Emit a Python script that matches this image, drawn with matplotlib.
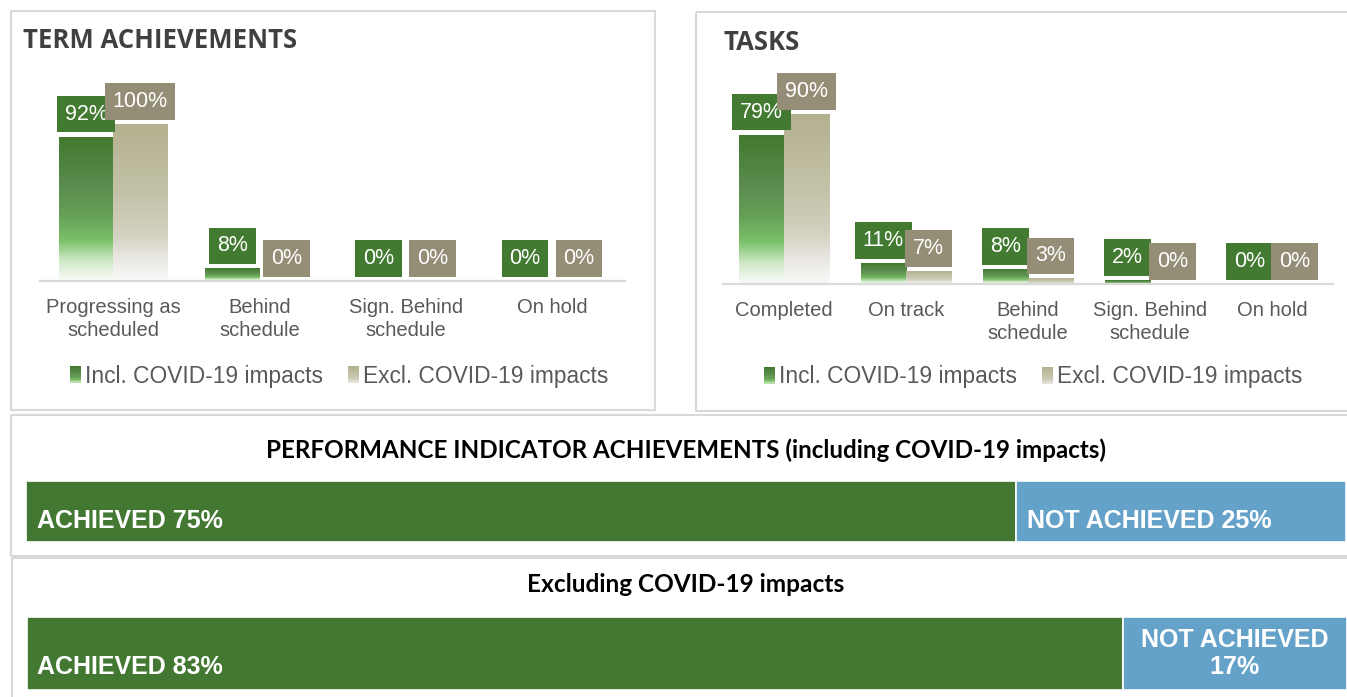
import numpy as np
import matplotlib
matplotlib.use("Agg")
import matplotlib.pyplot as plt
from matplotlib.colors import LinearSegmentedColormap
from matplotlib.patches import Rectangle
from matplotlib.legend_handler import HandlerBase

# ---------------- data ----------------
term_categories = ["Progressing as\nscheduled", "Behind\nschedule", "Sign. Behind\nschedule", "On hold"]
term_incl = [92, 8, 0, 0]
term_excl = [100, 0, 0, 0]

task_categories = ["Completed", "On track", "Behind\nschedule", "Sign. Behind\nschedule", "On hold"]
task_incl = [79, 11, 8, 2, 0]
task_excl = [90, 7, 3, 0, 0]

series_names = ["Incl. COVID-19 impacts", "Excl. COVID-19 impacts"]

pi_labels = ["ACHIEVED", "NOT ACHIEVED"]
pi_incl = [75, 25]
pi_excl = [83, 17]

# ---------------- style ----------------
W, H = 1347, 697
plt.rcParams["font.family"] = ["Liberation Sans", "DejaVu Sans"]

GREEN_CMAP = LinearSegmentedColormap.from_list(
    "g", [(0, "#42782E"), (0.35, "#5B8C4F"), (0.55, "#66A057"), (0.72, "#7BC169"),
          (0.86, "#CFE8C6"), (1, "#FBFCFA")])
BEIGE_CMAP = LinearSegmentedColormap.from_list(
    "b", [(0, "#B4B190"), (0.45, "#C4C2A8"), (0.7, "#D3D1C0"), (0.86, "#EAE8E3"), (1, "#FAF9F9")])
LBL_GREEN = "#437A31"
LBL_GREY = "#958E77"
BAR_GREEN = "#437833"
BAR_BLUE = "#65A2C9"
TXT = "#595959"
BORDER = "#D9D9D9"

fig = plt.figure(figsize=(W / 100, H / 100), dpi=100)
fig.patch.set_facecolor("white")


def rect(x0, y0, x1, y1):
    return [x0 / W, 1 - y1 / H, (x1 - x0) / W, (y1 - y0) / H]


# background with panel borders
bg = fig.add_axes([0, 0, 1, 1])
bg.set_xlim(0, W)
bg.set_ylim(H, 0)
bg.axis("off")
for (x0, y0, x1, y1) in [(11, 11, 655, 410), (696, 12, 1360, 411),
                         (11, 415, 1360, 556), (12, 558, 1360, 710)]:
    bg.add_patch(Rectangle((x0, y0), x1 - x0, y1 - y0, fill=False,
                           edgecolor=BORDER, linewidth=1.5))


class GradHandler(HandlerBase):
    def __init__(self, cmap):
        super().__init__()
        self.cmap = cmap

    def create_artists(self, legend, orig_handle, xdescent, ydescent,
                       width, height, fontsize, trans):
        n = 14
        arts = []
        for i in range(n):
            y0 = -ydescent + height * (1 - (i + 1) / n)
            arts.append(Rectangle((-xdescent, y0), width, height / n + 0.3,
                                  facecolor=self.cmap(0.82 * i / (n - 1)),
                                  edgecolor="none", transform=trans))
        return arts


def gradient_bars(ax, bars, cmap):
    grad = np.linspace(0, 1, 256).reshape(-1, 1)
    for b in bars:
        x0, y0 = b.get_x(), b.get_y()
        w, h = b.get_width(), b.get_height()
        if h <= 0:
            continue
        im = ax.imshow(grad, cmap=cmap, extent=(x0, x0 + w, y0, y0 + h),
                       origin="upper", aspect="auto", zorder=2, interpolation="bilinear")
        im.set_clip_path(b)


def column_chart(box, cats, incl, excl, ymax, legend_center):
    ax = fig.add_axes(rect(*box))
    ax.set_facecolor("none")
    x = np.arange(len(cats))
    w = 0.37
    b1 = ax.bar(x - w / 2, incl, w, color="none", edgecolor="none", zorder=1)
    b2 = ax.bar(x + w / 2, excl, w, color="none", edgecolor="none", zorder=1)
    gradient_bars(ax, b1, GREEN_CMAP)
    gradient_bars(ax, b2, BEIGE_CMAP)
    ax.set_xlim(-0.5, len(cats) - 0.5)
    ax.set_ylim(0, ymax)
    for xi, v in zip(x, incl):
        ax.annotate(f"{v}%", xy=(xi - w / 2, v), xytext=(0, 12), textcoords="offset pixels",
                    ha="center", va="bottom", fontsize=15.5, color="white", zorder=5,
                    bbox=dict(boxstyle="square,pad=0.36", fc=LBL_GREEN, ec="none"))
    for xi, v in zip(x, excl):
        ax.annotate(f"{v}%", xy=(xi + w / 2, v), xytext=(0, 12), textcoords="offset pixels",
                    ha="center", va="bottom", fontsize=15.5, color="white", zorder=6,
                    bbox=dict(boxstyle="square,pad=0.36", fc=LBL_GREY, ec="none"))
    ax.set_xticks(x, cats, fontsize=14.5, color=TXT, linespacing=1.25)
    ax.tick_params(axis="x", length=0, pad=12.5)
    ax.set_yticks([])
    for s in ["left", "right", "top"]:
        ax.spines[s].set_visible(False)
    ax.spines["bottom"].set_color(BORDER)
    ax.spines["bottom"].set_linewidth(1.6)
    ax.spines["bottom"].set_zorder(3)
    h1 = Rectangle((0, 0), 1, 1)
    h2 = Rectangle((0, 0), 1, 1)
    ax.legend([h1, h2], series_names,
              handler_map={h1: GradHandler(GREEN_CMAP), h2: GradHandler(BEIGE_CMAP)},
              loc="center", bbox_to_anchor=(legend_center[0] / W, 1 - legend_center[1] / H),
              bbox_transform=fig.transFigure, ncol=2, frameon=False, fontsize=16.4,
              handlelength=0.5, handleheight=0.75, handletextpad=0.15, columnspacing=1.1,
              labelcolor=TXT)
    return ax


column_chart((40, 100, 625, 281), term_categories, term_incl, term_excl,
             100 * (281 - 100) / 157, (339, 376))
column_chart((723, 80, 1333, 284), task_categories, task_incl, task_excl,
             100 * (284 - 80) / 189, (1033, 377))

# titles
fig.text(23 / W, 1 - 40 / H, "TERM ACHIEVEMENTS", fontsize=18.5, fontweight="bold",
         color="#404040", family=["Open Sans", "DejaVu Sans"], va="center", ha="left")
fig.text(724 / W, 1 - 43 / H, "TASKS", fontsize=18.5, fontweight="bold",
         color="#404040", family=["Open Sans", "DejaVu Sans"], va="center", ha="left")
fig.text(686 / W, 1 - 450 / H, "PERFORMANCE INDICATOR ACHIEVEMENTS (including COVID-19 impacts)",
         fontsize=17.4, fontweight="bold", color="black", family=["Lato", "DejaVu Sans"],
         va="center", ha="center")
fig.text(686 / W, 1 - 585 / H, "Excluding COVID-19 impacts",
         fontsize=17.6, fontweight="bold", color="black", family=["Lato", "DejaVu Sans"],
         va="center", ha="center")


def stacked_bar(box, vals):
    ax = fig.add_axes(rect(*box))
    ax.barh(0, vals[0], height=1, color=BAR_GREEN, edgecolor="white", linewidth=1.2)
    ax.barh(0, vals[1], left=vals[0], height=1, color=BAR_BLUE, edgecolor="white", linewidth=1.2)
    ax.set_xlim(0, sum(vals))
    ax.set_ylim(-0.5, 0.5)
    ax.axis("off")
    return ax


ax1 = stacked_bar((26, 481, 1346, 542), pi_incl)
ax1.annotate(f"{pi_labels[0]} {pi_incl[0]}%", xy=(0, 0), xytext=(11, -9), textcoords="offset pixels",
             ha="left", va="center", fontsize=18, fontweight="bold", color="white")
ax1.annotate(f"{pi_labels[1]} {pi_incl[1]}%", xy=(pi_incl[0], 0), xytext=(11, -9),
             textcoords="offset pixels", ha="left", va="center", fontsize=18,
             fontweight="bold", color="white")

ax2 = stacked_bar((27, 617, 1347, 690), pi_excl)
ax2.annotate(f"{pi_labels[0]} {pi_excl[0]}%", xy=(0, 0), xytext=(10, -14), textcoords="offset pixels",
             ha="left", va="center", fontsize=18, fontweight="bold", color="white")
ax2.annotate(f"{pi_labels[1]}\n{pi_excl[1]}%", xy=(pi_excl[0] + pi_excl[1] / 2, 0), xytext=(0, 0),
             textcoords="offset pixels", ha="center", va="center", fontsize=18,
             fontweight="bold", color="white", linespacing=1.15, multialignment="center")

fig.savefig("out.png", dpi=100)
